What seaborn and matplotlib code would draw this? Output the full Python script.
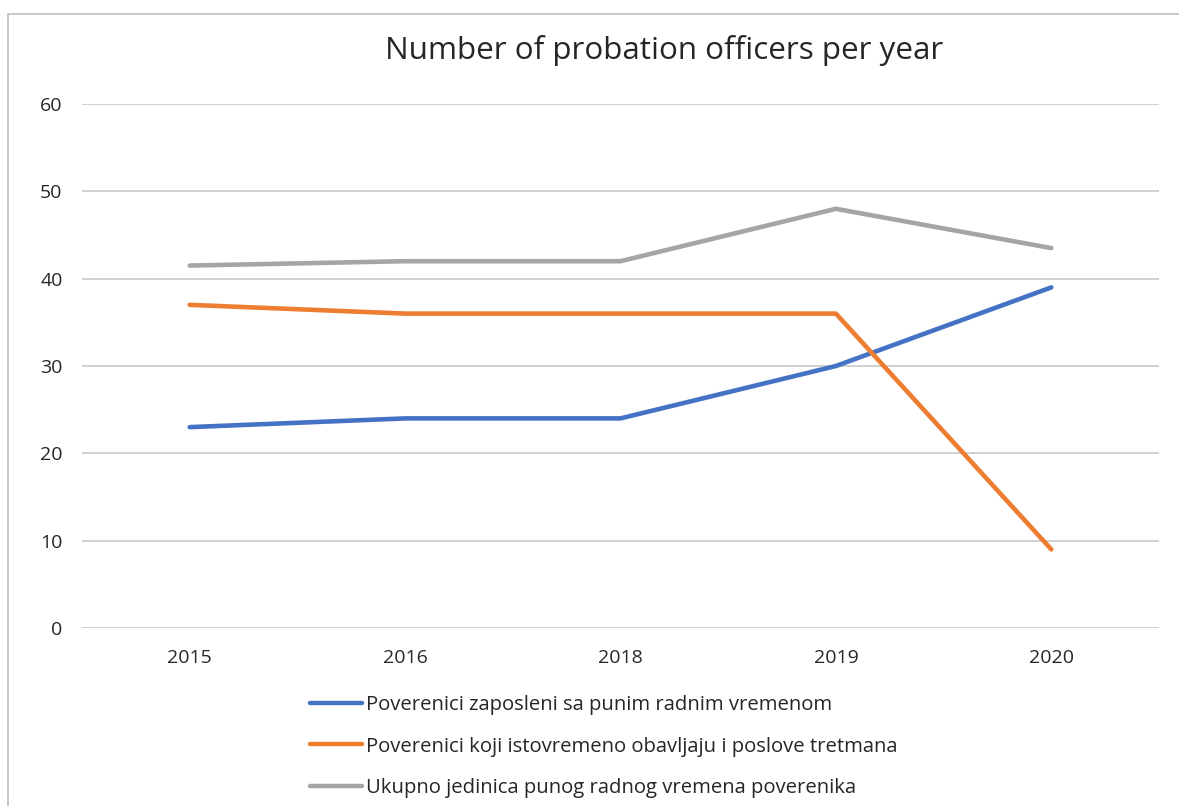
import matplotlib
matplotlib.use("Agg")
import matplotlib.pyplot as plt
from matplotlib.patches import Rectangle
import seaborn as sns
import pandas as pd

years = ["2015", "2016", "2018", "2019", "2020"]
full_time = [23, 24, 24, 30, 39]
also_treatment = [37, 36, 36, 36, 9]
total_fte = [41.5, 42, 42, 48, 43.5]

series_names = [
    "Poverenici zaposleni sa punim radnim vremenom",
    "Poverenici koji istovremeno obavljaju i poslove tretmana",
    "Ukupno jedinica punog radnog vremena poverenika",
]
series_values = [full_time, also_treatment, total_fte]
colors = ["#4472C4", "#ED7D31", "#A5A5A5"]

rows = []
for name, vals in zip(series_names, series_values):
    for yr, v in zip(years, vals):
        rows.append({"year": yr, "value": v, "series": name})
df = pd.DataFrame(rows)

sns.set_theme(style="white")
plt.rcParams["font.family"] = ["Open Sans", "DejaVu Sans"]

fig = plt.figure(figsize=(11.79, 8.06), dpi=100)
ax = fig.add_axes([82 / 1179, 1 - 628 / 806, (1159 - 82) / 1179, (628 - 104) / 806])

sns.lineplot(data=df, x="year", y="value", hue="series", palette=colors,
             linewidth=3.3, sort=False, ax=ax, legend=True)

ax.set_xlim(-0.5, 4.5)
ax.set_ylim(0, 60)
ax.set_yticks(range(0, 61, 10))
ax.yaxis.grid(True, color="#D0D0D0", linewidth=1.4)
ax.set_axisbelow(True)
for s in ax.spines.values():
    s.set_visible(False)
ax.tick_params(axis="y", length=0, pad=14, labelsize=14, labelcolor="#262626")
ax.tick_params(axis="x", length=0, pad=15, labelsize=14, labelcolor="#262626")
ax.set_xlabel("")
ax.set_ylabel("")

handles, labels = ax.get_legend_handles_labels()
ax.get_legend().remove()
for h in handles:
    h.set_linewidth(3.2)
    h.set_solid_capstyle("round")
fig.legend(handles, labels, loc="upper left", bbox_to_anchor=(292 / 1179, 1 - 677 / 806),
           frameon=False, fontsize=14.6, handlelength=2.55, handletextpad=0.22,
           labelspacing=1.05, labelcolor="#262626")

fig.text(664 / 1179, 1 - 50 / 806, "Number of probation officers per year",
         ha="center", va="center", fontsize=22.6, color="#262626")

# chart frame
fig.patches.append(Rectangle((8 / 1179, -0.1), 1.2, 1 - 14 / 806 + 0.1,
                             transform=fig.transFigure, fill=False,
                             edgecolor="#BFBFBF", linewidth=1.2))

fig.savefig("out.png", dpi=100)
